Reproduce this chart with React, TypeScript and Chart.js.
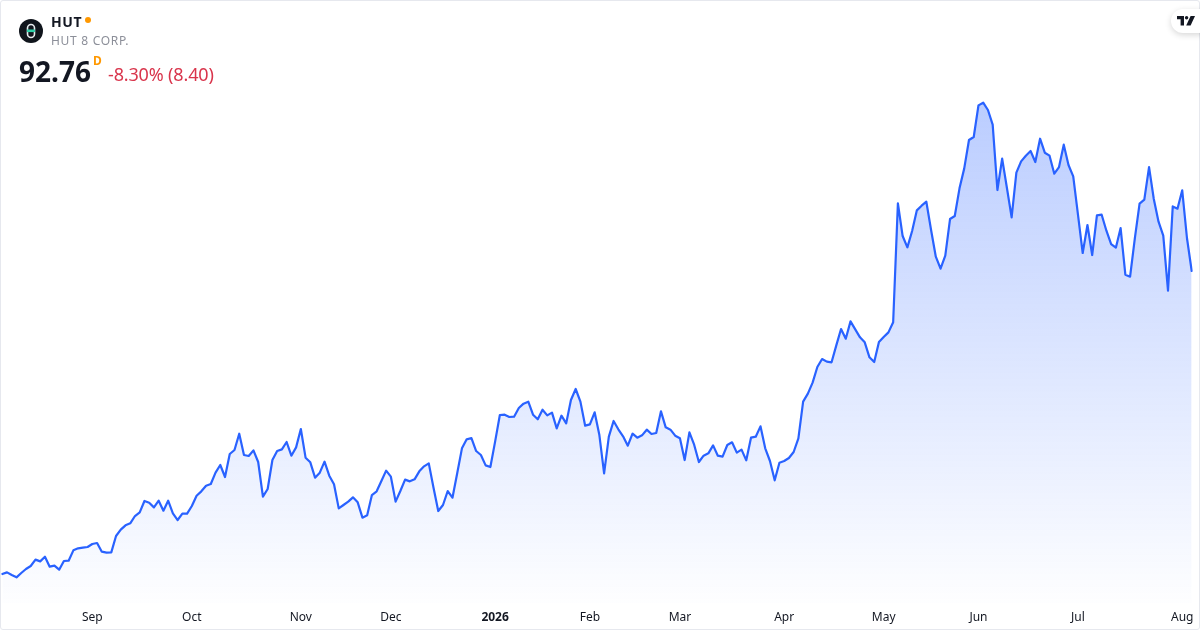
import React, { useEffect, useRef } from "react";
import { Chart, registerables } from "chart.js";

Chart.register(...registerables);

const symbol = "HUT";
const companyName = "HUT 8 CORP.";
const lastPrice = "92.76";
const interval = "D";
const changeText = "-8.30% (8.40)";

const tickIndexes = [19, 40, 63, 82, 104, 124, 143, 165, 186, 206, 227, 249];
const tickLabels = ["Sep", "Oct", "Nov", "Dec", "2026", "Feb", "Mar", "Apr", "May", "Jun", "Jul", "Aug"];

const prices = [
  15.65, 16.07, 15.39, 14.8, 15.9, 16.92, 17.68, 19.3, 18.87, 20.06, 17.51, 17.77, 16.75, 18.96, 19.04, 21.67,
  22.18, 22.35, 22.52, 23.28, 23.54, 21.33, 21.08, 21.16, 25.32, 26.93, 28.03, 28.54, 30.41, 31.34, 34.23, 33.8,
  32.61, 34.31, 31.77, 34.31, 31.09, 29.39, 31.0, 31.0, 32.95, 35.58, 36.69, 38.13, 38.55, 41.44, 43.39, 40.33,
  46.19, 47.21, 51.36, 45.93, 45.68, 47.12, 44.15, 35.33, 37.28, 44.66, 46.95, 47.37, 49.24, 45.76, 47.88,
  52.55, 45.25, 44.07, 40.16, 41.44, 44.24, 40.67, 38.47, 32.36, 33.21, 34.06, 35.16, 33.89, 29.99, 30.58, 35.75,
  36.69, 39.32, 41.95, 40.42, 34.06, 36.77, 39.66, 39.23, 39.74, 41.78, 43.05, 43.81, 37.62, 31.68, 33.21, 36.77,
  35.07, 41.27, 47.63, 49.92, 50.26, 46.95, 45.93, 43.3, 42.88, 49.33, 56.11, 56.2, 55.6, 55.69, 57.89, 59.0,
  59.51, 56.2, 55.01, 57.47, 56.03, 56.71, 52.72, 55.94, 53.99, 59.93, 62.73, 59.51, 53.4, 53.74, 56.79,
  51.02, 41.27, 50.6, 54.59, 52.47, 50.68, 48.31, 51.36, 50.35, 50.94, 52.38, 51.28, 51.53, 57.05, 52.97, 52.38,
  50.85, 50.18, 44.66, 51.7, 48.56, 44.15, 45.76, 46.36, 48.39, 45.76, 45.51, 48.48, 49.16, 46.53, 47.29, 44.58,
  50.35, 50.6, 53.23, 47.63, 44.41, 39.49, 43.98, 44.41, 45.17, 46.7, 50.18, 59.51, 61.54, 64.34, 68.33, 70.36,
  69.69, 69.52, 73.84, 78.0, 75.54, 79.95, 77.91, 75.88, 74.61, 70.79, 69.6, 74.69, 75.96, 77.15, 79.7,
  109.98, 101.66, 98.78, 102.94, 108.2, 109.38, 110.4, 103.19, 96.4, 93.35, 96.66, 105.99, 106.75, 113.8, 118.88,
  126.1, 126.86, 134.92, 135.6, 133.73, 130.0, 113.37, 121.35, 113.96, 106.41, 117.78, 120.67, 122.11, 123.3,
  120.5, 126.43, 122.87, 122.11, 117.53, 119.22, 124.91, 119.73, 116.85, 107.09, 97.34, 104.46, 96.83, 106.92,
  107.09, 103.02, 99.63, 98.7, 103.7, 91.82, 91.32, 101.07, 109.89, 110.91, 119.22, 111.08, 105.31, 101.75, 87.75,
  109.21, 108.62, 113.29, 101.16, 92.76,
];

const categories = prices.map((_, i) => {
  const at = tickIndexes.indexOf(i);
  return at >= 0 ? tickLabels[at] : "";
});

const LINE_BLUE = "#2962ff";
const FONT = '"Noto Sans", sans-serif';

export default function App() {
  const canvasRef = useRef<HTMLCanvasElement | null>(null);

  useEffect(() => {
    document.body.style.margin = "0";
    const chart = new Chart(canvasRef.current!, {
      type: "line",
      data: {
        labels: categories,
        datasets: [
          {
            data: prices,
            borderColor: LINE_BLUE,
            borderWidth: 2.2,
            borderJoinStyle: "round",
            borderCapStyle: "round",
            pointRadius: 0,
            tension: 0,
            fill: "start",
            backgroundColor: (ctx: any) => {
              const { chart: c } = ctx;
              if (!c.chartArea) return "rgba(41,98,255,0.15)";
              const g = c.ctx.createLinearGradient(0, 100, 0, 615);
              g.addColorStop(0, "rgba(41,98,255,0.32)");
              g.addColorStop(1, "rgba(41,98,255,0)");
              return g;
            },
          },
        ],
      },
      options: {
        responsive: false,
        animation: false,
        devicePixelRatio: 1,
        layout: { padding: { left: 2.3, right: 8.3, top: 0, bottom: 0 } },
        plugins: { legend: { display: false }, tooltip: { enabled: false } },
        scales: {
          y: { display: false, min: 8.27, max: 161.73 },
          x: {
            afterFit: (s: any) => {
              s.height = 27;
              s.paddingLeft = 0;
              s.paddingRight = 0;
            },
            grid: { display: false, drawTicks: false },
            border: { display: false },
            ticks: {
              autoSkip: false,
              maxRotation: 0,
              padding: 7,
              color: "#131722",
              font: (ctx: any) => ({
                family: FONT,
                size: 12,
                weight: ctx.tick && ctx.tick.label === "2026" ? "bold" : "normal",
              }),
            },
          },
        },
      },
    } as any);
    return () => chart.destroy();
  }, []);

  return (
    <div style={{ position: "relative", width: 1200, height: 630, overflow: "hidden", background: "#fff", fontFamily: FONT }}>
      <canvas ref={canvasRef} width={1200} height={630} style={{ position: "absolute", left: 0, top: 0, display: "block" }} />
      <div
        style={{
          position: "absolute",
          inset: 0,
          border: "1px solid #e6e8ee",
          borderRadius: 3,
          boxSizing: "border-box",
          pointerEvents: "none",
        }}
      />
      <svg width={24} height={24} viewBox="0 0 24 24" style={{ position: "absolute", left: 19, top: 19 }}>
        <circle cx={12} cy={12} r={12} fill="#10151c" />
        <rect x={8.5} y={5.5} width={7} height={13} rx={3.5} fill="none" stroke="#e8edf0" strokeWidth={1.6} />
        <rect x={8} y={10.5} width={8} height={2.6} fill="#2fd0a8" />
      </svg>
      <div style={{ position: "absolute", left: 51, top: 12, fontSize: 14, lineHeight: "19px", fontWeight: 700, color: "#131722", letterSpacing: 0.6 }}>
        {symbol}
      </div>
      <div style={{ position: "absolute", left: 85, top: 17, width: 6, height: 6, borderRadius: 3, background: "#ff9800" }} />
      <div style={{ position: "absolute", left: 51, top: 32, fontSize: 12, lineHeight: "17px", color: "#8c8f99", letterSpacing: 0.7 }}>
        {companyName}
      </div>
      <div style={{ position: "absolute", left: 19, top: 52, fontSize: 28, lineHeight: "38px", fontWeight: 700, color: "#131722" }}>
        {lastPrice}
      </div>
      <div style={{ position: "absolute", left: 93, top: 53, fontSize: 12, lineHeight: "16px", fontWeight: 700, color: "#ff9800" }}>
        {interval}
      </div>
      <div style={{ position: "absolute", left: 108, top: 62, fontSize: 18, lineHeight: "25px", color: "#d9354c", letterSpacing: -0.15 }}>
        {changeText}
      </div>
      <div
        style={{
          position: "absolute",
          left: 1171,
          top: 9,
          width: 40,
          height: 24,
          borderRadius: 12,
          background: "#fff",
          boxShadow: "0 2px 6px rgba(0,0,0,0.16)",
        }}
      />
      <svg width={18} height={10} viewBox="0 0 18 10" style={{ position: "absolute", left: 1177, top: 16 }}>
        <path d="M0 0H7V9.5H3.6V3.2H0Z" fill="#131722" />
        <circle cx={9.6} cy={1.7} r={1.7} fill="#131722" />
        <path d="M13.6 0H18L13.6 9.5H9.2Z" fill="#131722" />
      </svg>
    </div>
  );
}
